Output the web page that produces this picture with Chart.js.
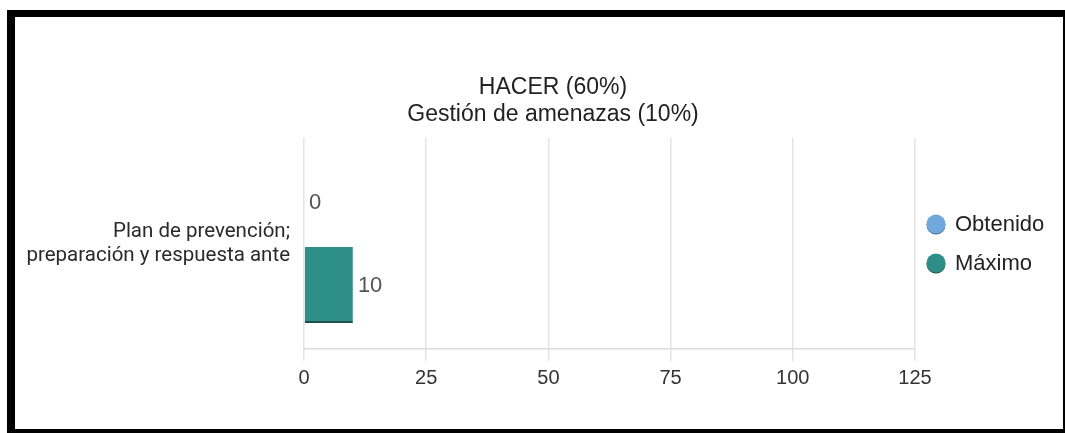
<!DOCTYPE html>
<html>
<head>
<meta charset="utf-8">
<script src="https://cdn.jsdelivr.net/npm/chart.js@4.4.1/dist/chart.umd.min.js"></script>
<style>
  html, body { margin: 0; padding: 0; background: #fff; }
  #wrap { position: relative; width: 1065px; height: 433px; overflow: hidden; }
  canvas { position: absolute; left: 0; top: 0; }
  .b { position: absolute; background: #000; }
</style>
</head>
<body>
<div id="wrap">
  <canvas id="c" width="1065" height="433"></canvas>
  <div class="b" style="left:7px;top:10px;width:1058px;height:7px;"></div>
  <div class="b" style="left:7px;top:10px;width:8px;height:423px;"></div>
  <div class="b" style="left:1063px;top:10px;width:2px;height:423px;"></div>
  <div class="b" style="left:7px;top:429px;width:1058px;height:4px;"></div>
</div>
<script>
const titleLines = ['HACER (60%)', 'Gestión de amenazas (10%)'];
const categories = [['Plan de prevención;', 'preparación y respuesta ante']];
const seriesNames = ['Obtenido', 'Máximo'];
const obtenido = [0];
const maximo = [10];
const xTicks = [0, 25, 50, 75, 100, 125];
const seriesColors = ['#6fa8dc', '#2e8f89'];
const seriesShadow = ['#3f6f99', '#20504d'];

const valueLabels = {
  id: 'valueLabels',
  afterDatasetsDraw(chart) {
    const ctx = chart.ctx;
    ctx.save();
    ctx.font = '22px "Liberation Sans", Arial, sans-serif';
    ctx.fillStyle = '#555';
    ctx.textAlign = 'left';
    ctx.textBaseline = 'middle';
    chart.data.datasets.forEach((ds, i) => {
      chart.getDatasetMeta(i).data.forEach((bar, j) => {
        ctx.fillText(String(ds.data[j]), bar.x + 5, bar.y + 1);
      });
    });
    ctx.restore();
  }
};

const titleAndLegend = {
  id: 'titleAndLegend',
  afterDraw(chart) {
    const ctx = chart.ctx;
    ctx.save();
    ctx.fillStyle = '#222';
    ctx.font = '23px "Liberation Sans", Arial, sans-serif';
    ctx.textAlign = 'center';
    ctx.textBaseline = 'alphabetic';
    ctx.fillText(titleLines[0], 553, 94);
    ctx.fillText(titleLines[1], 553, 121);
    // legend
    const ys = [224, 263];
    ctx.font = '22px "Liberation Sans", Arial, sans-serif';
    ctx.textAlign = 'left';
    ctx.textBaseline = 'middle';
    chart.data.datasets.forEach((ds, i) => {
      const cx = 936, cy = ys[i];
      ctx.beginPath();
      ctx.arc(cx, cy + 1, 9.5, 0, Math.PI * 2);
      ctx.fillStyle = seriesShadow[i];
      ctx.fill();
      ctx.beginPath();
      ctx.arc(cx, cy, 9.5, 0, Math.PI * 2);
      ctx.fillStyle = seriesColors[i];
      ctx.fill();
      ctx.fillStyle = '#222';
      ctx.fillText(ds.label, 955, cy + 1);
    });
    ctx.restore();
  }
};

new Chart(document.getElementById('c'), {
  type: 'bar',
  data: {
    labels: categories,
    datasets: [
      { label: seriesNames[0], data: obtenido, backgroundColor: seriesColors[0],
        borderColor: seriesShadow[0], borderWidth: {top:0,left:0,right:0,bottom:2}, borderSkipped: false,
        categoryPercentage: 0.787, barPercentage: 0.916 },
      { label: seriesNames[1], data: maximo, backgroundColor: seriesColors[1],
        borderColor: seriesShadow[1], borderWidth: {top:0,left:0,right:0,bottom:2}, borderSkipped: false,
        categoryPercentage: 0.787, barPercentage: 0.916 }
    ]
  },
  options: {
    indexAxis: 'y',
    responsive: false,
    animation: false,
    layout: { padding: { left: 0, right: 150, top: 138, bottom: 0 } },
    plugins: { legend: { display: false }, title: { display: false }, tooltip: { enabled: false } },
    scales: {
      x: {
        min: 0, max: 125,
        afterBuildTicks(scale) { scale.ticks = xTicks.map(v => ({ value: v })); },
        afterFit(scale) { scale.height = 84; },
        grid: { color: '#e4e4e4', lineWidth: 1.5, tickLength: 12, tickColor: '#e4e4e4' },
        border: { display: true, color: '#dcdcdc', width: 1.5 },
        ticks: { color: '#333', font: { family: '"Liberation Sans", Arial, sans-serif', size: 20 }, padding: 5 }
      },
      y: {
        afterFit(scale) { scale.width = 304; },
        grid: { display: false, drawTicks: false },
        border: { display: false },
        ticks: { color: '#2a2a2a', font: { family: 'Roboto, "Liberation Sans", sans-serif', size: 20.5, lineHeight: 1.18 }, padding: 14 }
      }
    }
  },
  plugins: [valueLabels, titleAndLegend]
});
</script>
</body>
</html>
